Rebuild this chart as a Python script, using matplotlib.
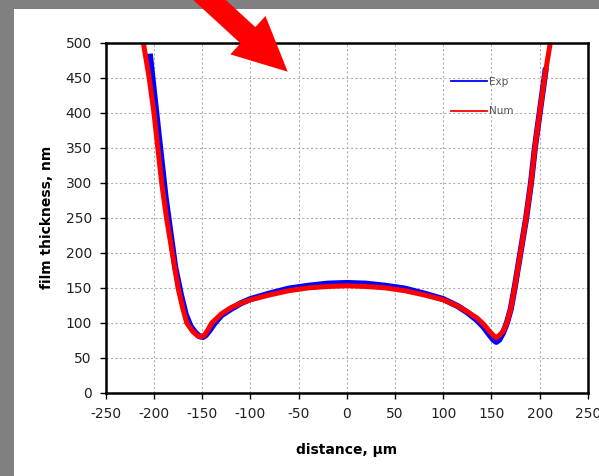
import matplotlib
matplotlib.use('Agg')
import numpy as np
import matplotlib.pyplot as plt
import matplotlib.patches as patches
from matplotlib.transforms import Affine2D

plt.rcParams['axes.unicode_minus'] = False

# numerical film profile
num_x = [-211, -205, -200, -196, -192, -187, -181, -175, -170, -166, -160, -155, -151, -148,
         -145, -140, -130, -120, -110, -100, -80, -60, -40, -20, 0, 20, 40, 60, 80, 100,
         115, 125, 135, 142, 148, 152, 155, 158, 162, 166, 170, 174, 180, 186, 191, 195,
         200, 205, 211]
num_y = [500, 450, 400, 350, 300, 250, 200, 150, 120, 100, 88, 82, 80, 82,
         88, 100, 113, 122, 128, 133, 140, 146, 150, 152, 153, 152, 150, 146, 140, 133,
         124, 116, 107, 98, 88, 82, 79, 82, 88, 100, 120, 150, 200, 250, 300, 350,
         400, 450, 500]

# measured film profile
exp_x = [-204, -200, -196, -192, -188, -183, -178, -172, -167, -162, -157, -153, -149, -146,
         -142, -137, -130, -120, -110, -100, -80, -60, -40, -20, 0, 20, 40, 60, 80, 100,
         115, 125, 135, 142, 148, 152, 155, 158, 162, 166, 170, 174, 180, 186, 191, 195,
         200, 206]
exp_y = [480, 430, 380, 330, 280, 230, 180, 140, 112, 95, 86, 81, 80, 83,
         90, 100, 111, 120, 128, 134, 142, 149, 153, 156, 157, 156, 153, 149, 142, 134,
         124, 115, 104, 94, 83, 76, 73, 76, 86, 100, 120, 150, 200, 250, 300, 350,
         400, 460]

W, H = 599, 476
fig = plt.figure(figsize=(W / 100.0, H / 100.0), dpi=100, facecolor='#808080')

# white panel
px = Affine2D().scale(1.0 / W, -1.0 / H).translate(0, 1) + fig.transFigure
fig.add_artist(patches.Rectangle((14, 9), W, H, transform=px, facecolor='white',
                                 edgecolor='none', zorder=0))

ax = fig.add_axes([0.1765, 0.1744, 0.805, 0.7359])
ax.plot(exp_x, exp_y, color='#0000ff', lw=4.4, label='Exp', solid_joinstyle='round')
ax.plot(num_x, num_y, color='#ff0000', lw=3.6, label='Num', solid_joinstyle='round')
ax.set_xlim(-250, 250)
ax.set_ylim(0, 500)
ax.set_xticks(np.arange(-250, 251, 50))
ax.set_yticks(np.arange(0, 501, 50))
ax.grid(True, color='#b0b0b0', linestyle=(0, (2, 2)), lw=0.8)
for s in ax.spines.values():
    s.set_linewidth(1.8)
ax.tick_params(direction='out', length=4, width=1, labelsize=10, labelcolor='#222222',
               pad=6)
ax.set_xlabel('distance, \u00b5m', fontsize=10, fontweight='bold', labelpad=16)
ax.set_ylabel('film thickness, nm', fontsize=10, fontweight='bold', labelpad=8)

leg = ax.legend(loc='upper left', bbox_to_anchor=(0.697, 0.93), frameon=False,
                fontsize=7.5, handlelength=3.4, handletextpad=0.2, labelspacing=1.9)
for t in leg.get_texts():
    t.set_color('#555555')
for l in leg.get_lines():
    l.set_linewidth(1.3)

# red pointer arrow
d = np.array([0.737, 0.676])
start = np.array([209.5, 0.0]) - d * 30
tip = np.array([287.7, 71.7])
arr = patches.FancyArrow(start[0], start[1], tip[0] - start[0], tip[1] - start[1],
                         width=22, head_width=52, head_length=54,
                         length_includes_head=True, transform=px,
                         color='#ff0000', lw=0)
fig.add_artist(arr)

plt.savefig('out.png', dpi=100, facecolor=fig.get_facecolor())
